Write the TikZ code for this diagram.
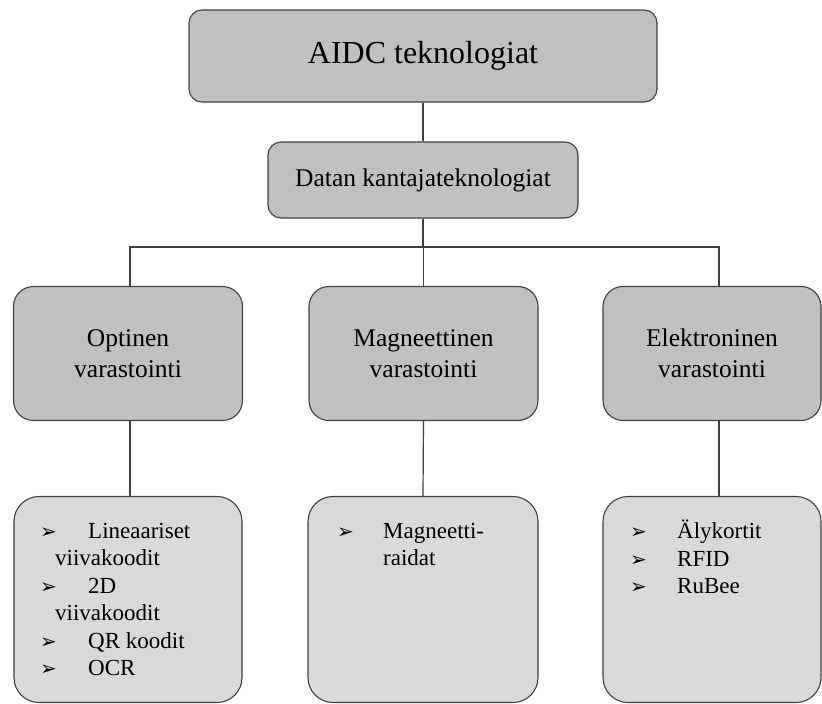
\documentclass[tikz,border=0pt]{standalone}
\usepackage{fontspec}
\setmainfont{Liberation Serif}
\newfontfamily\symfont{DejaVu Sans}
\usepackage{tikz}
\usetikzlibrary{positioning}

\definecolor{boxgray}{HTML}{C0C0C0}
\definecolor{listgray}{HTML}{D9D9D9}
\definecolor{edgegray}{HTML}{404040}

\newcommand{\bul}[1]{\makebox[#1][l]{\symfont\fontsize{20}{20}\selectfont ➢}}

\tikzset{
  mainbox/.style={draw=edgegray, line width=1.1pt, fill=boxgray, rounded corners=13pt},
  storebox/.style={draw=edgegray, line width=1.1pt, fill=boxgray, rounded corners=20pt,
    minimum width=229pt, minimum height=134pt, align=center,
    font=\fontsize{25.5}{31}\selectfont},
  listbox/.style={draw=edgegray, line width=1.1pt, fill=listgray, rounded corners=25pt,
    minimum height=206pt},
  items/.style={inner sep=0pt, align=left, anchor=north west,
    font=\fontsize{23}{27.5}\selectfont},
  link/.style={draw=edgegray, line width=1.2pt}
}

\begin{document}
\begin{tikzpicture}[x=1pt, y=-1pt]
    \useasboundingbox (0,0) rectangle (822,704);

    \node (AIDC) [mainbox, minimum width=468pt, minimum height=92pt,
      font=\fontsize{32}{38}\selectfont] at (423,56) {AIDC teknologiat};
    \node (datan) [mainbox, minimum width=310pt, minimum height=76pt,
      font=\fontsize{25.5}{30}\selectfont] at (423,180) {Datan kantajateknologiat};

    \node (opt) [storebox] at (128,353.5) {Optinen\\varastointi};
    \node (mag) [storebox] at (423.5,353.5) {Magneettinen\\varastointi};
    \node (elek) [storebox, minimum width=218pt] at (712,353.5) {Elektroninen\\varastointi};

    \node (optList) [listbox, minimum width=228pt] at (128,599.5) {};
    \node (magList) [listbox, minimum width=230pt] at (423,599.5) {};
    \node (elekList) [listbox, minimum width=218pt] at (712,599.5) {};

    \node (optItems) [items] at (40,523) {\bul{48pt}Lineaariset\\
      \hspace*{15pt}viivakoodit\\
      \bul{48pt}2D\\
      \hspace*{15pt}viivakoodit\\
      \bul{48pt}QR koodit\\
      \bul{48pt}OCR};
    \node (magItems) [items] at (337,523) {\bul{46pt}Magneetti-\\
      \hspace*{46pt}raidat};
    \node (elekItems) [items] at (630,520) {\bul{47pt}Älykortit\\
      \bul{47pt}RFID\\
      \bul{47pt}RuBee};

    \coordinate (split) at (423,247);

    \draw[link] (AIDC) -- (datan);
    \draw[link] (datan) -- (split);
    \draw[link] ([xshift=2pt]opt.north) |- (split) -| ([xshift=7pt]elek.north);
    \draw[link] (mag.north) -- (mag.north |- split);
    \draw[link] ([xshift=2pt]opt.south) -- ([xshift=2pt]optList.north);
    \draw[link] (mag.south) -- (magList.north);
    \draw[link] ([xshift=7pt]elek.south) -- ([xshift=7pt]elekList.north);
\end{tikzpicture}
\end{document}
